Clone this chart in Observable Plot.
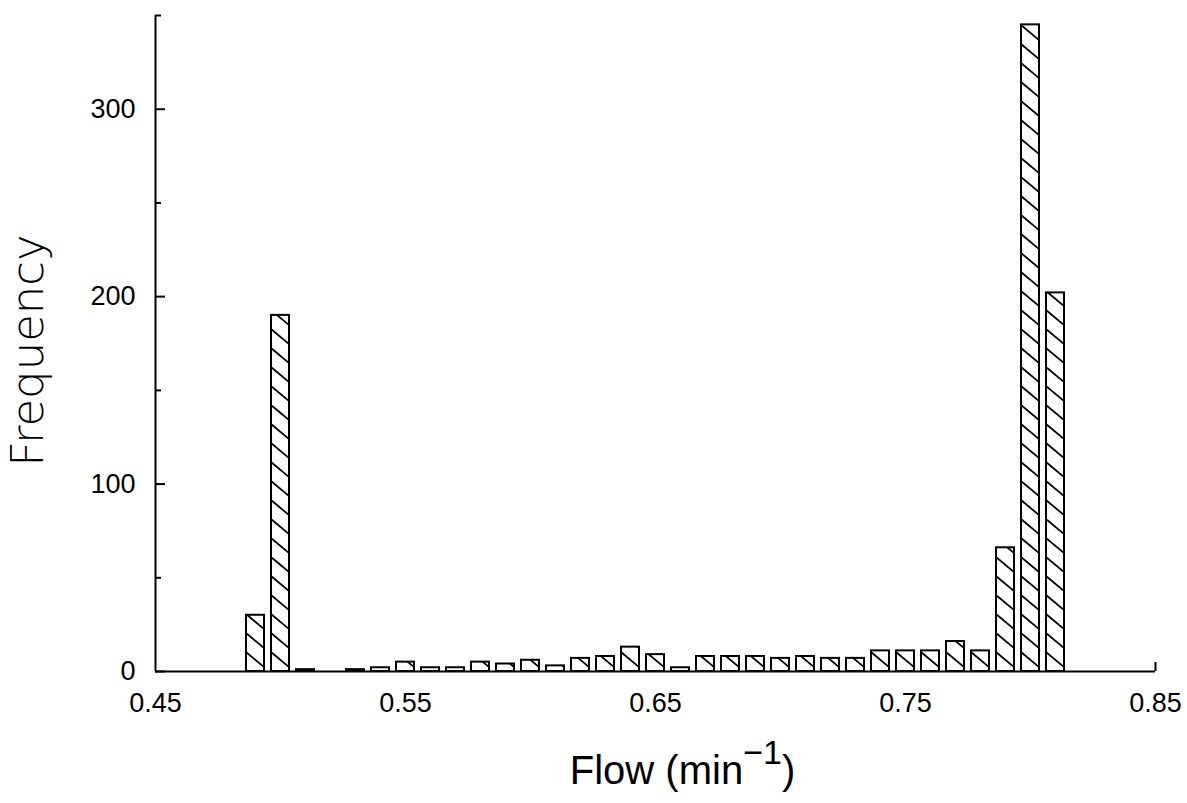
<!DOCTYPE html>
<html>
<head>
<meta charset="utf-8">
<script src="https://cdn.jsdelivr.net/npm/d3@7"></script>
<script src="https://cdn.jsdelivr.net/npm/@observablehq/plot@0.6"></script>
<style>
  html, body { margin: 0; padding: 0; background: #fff; }
  #chart svg { display: block; }
</style>
</head>
<body>
<div id="chart"></div>
<script>
// ---- data ----
const flows  = [0.49, 0.50, 0.51, 0.52, 0.53, 0.54, 0.55, 0.56, 0.57, 0.58, 0.59,
                0.60, 0.61, 0.62, 0.63, 0.64, 0.65, 0.66, 0.67, 0.68, 0.69, 0.70,
                0.71, 0.72, 0.73, 0.74, 0.75, 0.76, 0.77, 0.78, 0.79, 0.80, 0.81];
const counts = [30, 190, 1, 0, 1, 2, 5, 2, 2, 5, 4,
                6, 3, 7, 8, 13, 9, 2, 8, 8, 8, 7,
                8, 7, 7, 11, 11, 11, 16, 11, 66, 345, 202];
const yMajorTicks = [0, 100, 200, 300];
const yMinorTicks = [50, 150, 250, 350];
const xTicks = [0.45, 0.55, 0.65, 0.75, 0.85];
const xTickLabels = ["0.45", "0.55", "0.65", "0.75", "0.85"];
const xTitle = "Flow (min";
const xTitleSup = "\u22121";
const xTitleEnd = ")";
const yTitle = "Frequency";
const binHalfWidth = 0.0036;

const bars = flows.map((f, i) => ({flow: f, count: counts[i]}));
const tickFont = "'Liberation Sans', Arial, sans-serif";

const chart = Plot.plot({
  width: 1187,
  height: 803,
  marginLeft: 155,
  marginRight: 32,
  marginTop: 15,
  marginBottom: 132,
  x: {domain: [0.45, 0.85]},
  y: {domain: [0, 350]},
  style: {fontFamily: tickFont, fontSize: "27px", color: "#000", background: "#fff"},
  marks: [
    Plot.rect(bars, {
      x1: d => d.flow - binHalfWidth,
      x2: d => d.flow + binHalfWidth,
      y1: 0,
      y2: "count",
      fill: "url(#hatch)",
      stroke: "#000",
      strokeWidth: 2
    }),
    Plot.ruleY([0], {stroke: "#000", strokeWidth: 2}),
    Plot.ruleX([0.45], {stroke: "#000", strokeWidth: 2}),
    Plot.axisY({ticks: yMajorTicks, tickSize: -10, tickPadding: 30, label: null, strokeWidth: 2,
                fontSize: 27, fontFamily: tickFont, tickFormat: d => String(d)}),
    Plot.axisY({ticks: yMinorTicks, tickSize: -6, text: null, label: null, strokeWidth: 2}),
    Plot.axisX({ticks: xTicks, tickSize: 0, tickPadding: 21, label: null,
                fontSize: 27, fontFamily: tickFont,
                tickFormat: d => xTickLabels[xTicks.indexOf(d)]}),
    Plot.axisX({ticks: [0.85], tickSize: -9, text: null, label: null, strokeWidth: 2}),
    Plot.text([yTitle], {
      frameAnchor: "left", text: d => d, rotate: -90, dx: -127, dy: 7,
      fontSize: 45, fontFamily: "'DejaVu Sans', sans-serif", fontWeight: 200,
      textAnchor: "middle", lineAnchor: "middle"
    }),
    Plot.text([xTitle], {
      frameAnchor: "bottom", text: d => d, dx: 27, dy: 112,
      fontSize: 40, fontFamily: "'Liberation Sans Narrow', 'Liberation Sans', sans-serif",
      textAnchor: "middle", lineAnchor: "bottom"
    })
  ]
});

// ---- hatch pattern aligned to the bars through the scales ----
const svg = d3.select(chart);
const xs = chart.scale("x"), ys = chart.scale("y");
const left0 = xs.apply(flows[0] - binHalfWidth);
const barW = xs.apply(flows[0] + binHalfWidth) - left0;
const step = xs.apply(flows[1] - binHalfWidth) - left0;
const base = ys.apply(0);
const hatchH = 19, hatchDrop = 15;
const defs = svg.insert("defs", ":first-child");
const pat = defs.append("pattern")
  .attr("id", "hatch")
  .attr("patternUnits", "userSpaceOnUse")
  .attr("x", left0).attr("y", base)
  .attr("width", step).attr("height", hatchH);
pat.append("rect").attr("width", step).attr("height", hatchH).attr("fill", "#fff");
pat.append("line")
  .attr("x1", -1).attr("y1", -hatchDrop / barW)
  .attr("x2", barW + 1).attr("y2", hatchDrop + hatchDrop / barW)
  .attr("stroke", "#000").attr("stroke-width", 1.8);

// ---- superscript in the x title ----
const xt = svg.selectAll("text").filter(function() { return this.textContent === xTitle; });
xt.append("tspan").attr("dy", -20).attr("font-size", 34).text(xTitleSup);
xt.append("tspan").attr("dy", 20).text(xTitleEnd);

document.getElementById("chart").appendChild(chart);
</script>
</body>
</html>
